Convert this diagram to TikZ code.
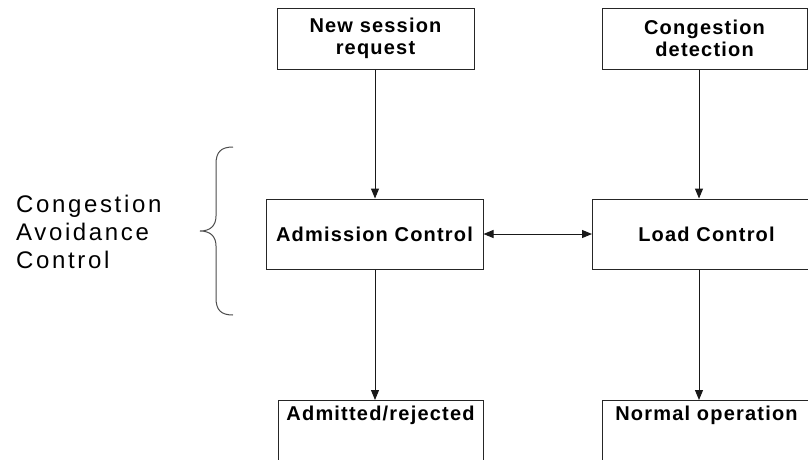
\documentclass[tikz,border=0pt]{standalone}
\usepackage{fontspec}
\setmainfont{Liberation Sans}
\usetikzlibrary{arrows.meta}
\newfontfamily\boxfont[LetterSpace=6]{Liberation Sans Bold}
\newfontfamily\sidefont[LetterSpace=11]{Liberation Sans}
\begin{document}
\begin{tikzpicture}[x=1pt,y=-1pt,
  stepbox/.style={draw=black!85, line width=1pt, inner sep=5pt, align=center,
    font=\boxfont\fontsize{20}{22}\selectfont},
  tip/.tip={Triangle[length=10pt,width=8pt]},
  arr/.style={-tip, line width=1pt, draw=black!90},
  darr/.style={tip-tip, line width=1pt, draw=black!90},
  bracestyle/.style={draw=black!70, line width=1pt}]
  \clip (0,0) rectangle (808,459);
  \fill[white] (0,0) rectangle (808,459);

  % column axes for the vertical flows
  \coordinate (lx) at (375,0);
  \coordinate (rx) at (699,0);

  % top row
  \node[stepbox, minimum width=197pt, minimum height=61pt] (nsr) at (375.5,38.5) {New session\\request};
  \node[stepbox, minimum width=205pt, minimum height=61pt] (cdt) at (704.5,38.5) {Congestion\\detection};

  % middle row
  \node[stepbox, minimum width=217pt, minimum height=70pt] (adm) at (374.5,234) {Admission Control};
  \node[stepbox, minimum width=228pt, minimum height=70pt, anchor=west] (ldc) at (592,234) {Load Control};

  % bottom row (runs past the lower edge)
  \node[stepbox, minimum width=205pt, text depth=60pt, anchor=north] (adr) at (380.5,400) {Admitted/rejected};
  \node[stepbox, minimum width=208pt, text depth=60pt, anchor=north west] (nop) at (602,400) {Normal operation};

  % flows
  \draw[arr] (lx |- nsr.south) -- (lx |- adm.north);
  \draw[arr] (rx |- cdt.south) -- (rx |- ldc.north);
  \draw[arr] (lx |- adm.south) -- (lx |- adr.north);
  \draw[arr] (rx |- ldc.south) -- (rx |- nop.north);
  \draw[darr] (adm.east) -- (ldc.west);

  % side label and brace
  \node[anchor=west, inner sep=0pt, align=left, font=\sidefont\fontsize{24}{28}\selectfont] (cac) at (16,232) {Congestion\\Avoidance\\Control};
  \draw[bracestyle] (233,147) .. controls (221,147) and (216,152) .. (216,164)
    -- (216,216) .. controls (216,226) and (210,231) .. (200,231)
    .. controls (210,231) and (216,236) .. (216,246)
    -- (216,298) .. controls (216,310) and (221,315) .. (233,315);
\end{tikzpicture}
\end{document}
